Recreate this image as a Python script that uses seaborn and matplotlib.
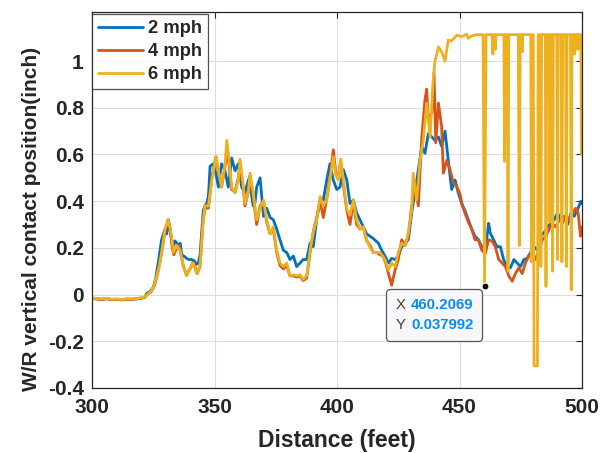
import matplotlib
matplotlib.use("Agg")
import matplotlib.pyplot as plt
import numpy as np
import pandas as pd
import seaborn as sns
from matplotlib.offsetbox import TextArea, HPacker, VPacker, AnnotationBbox
from matplotlib.ticker import FuncFormatter

# ---------------------------------------------------------------- data
speeds = ["2 mph", "4 mph", "6 mph"]
colors = ["#0072BD", "#D95319", "#EDB120"]

flat_x = [300, 302, 304, 306, 308, 310, 312, 314, 316, 318, 320]

dist_2mph = flat_x + [
    321.5, 322.3, 323.5, 325, 326, 327, 328.4, 329.8, 330.5, 331.1, 332.5, 333.2,
    333.9, 335.2, 336.0, 336.6, 337.5, 338.6, 339.5, 340.7, 341.7, 342.7, 343.4,
    344.1, 345.4, 346.1, 346.8, 347.5, 348.2, 349.5, 350.5, 351.6, 352.3, 352.9,
    354.3, 355.6, 356.3, 357, 358.4, 359.7, 361.1, 362.4, 363.8, 364.5, 365.2,
    365.8, 366.5, 367.2, 368.6, 370, 371.3, 372.7, 374, 375.4, 376.7, 378.1,
    379.5, 380.8, 382.2, 383.5, 384.9, 386.2, 387.6, 389, 390.3, 391.7, 393.1,
    394.4, 395.8, 397.1, 398.5, 399.9, 401.2, 402.6, 404, 405.3, 406.7, 408,
    409.4, 410.7, 412.1, 413.5, 414.8, 416.9, 418.2, 419.6, 421, 422.3, 423.7,
    425, 426.4, 427.8, 429.1, 430.5, 431.8, 433.2, 434.6, 435.9, 437.3, 438.7,
    440, 441.4, 442.7, 444.1, 445.4, 446.8, 448.2, 449.5, 450.9, 452.2, 453.6,
    455, 456.3, 457.7, 459.1, 460.5, 461.9, 462.5, 463.9, 465.3, 466.7, 468,
    469.4, 470.8, 472.2, 473.5, 474.9, 476.3, 477.6, 479, 480.4, 481.8, 483.1,
    484.5, 485.9, 487.2, 488.6, 490, 491.3, 492.7, 494.1, 495.5, 496.8, 498.2,
    499.6, 500]
pos_2mph = [-0.015, -0.018, -0.02, -0.017, -0.022, -0.02, -0.022, -0.019, -0.02, -0.018, -0.015] + [
    -0.012, 0.005, 0.012, 0.03, 0.07, 0.135, 0.235, 0.28, 0.26, 0.32, 0.235, 0.21,
    0.23, 0.21, 0.22, 0.17, 0.165, 0.155, 0.15, 0.15, 0.145, 0.13, 0.135,
    0.17, 0.36, 0.38, 0.39, 0.42, 0.55, 0.56, 0.52, 0.46, 0.52, 0.56,
    0.53, 0.46, 0.52, 0.585, 0.53, 0.56, 0.46, 0.435, 0.49, 0.505, 0.42,
    0.38, 0.39, 0.46, 0.50, 0.335, 0.37, 0.33, 0.32, 0.28, 0.235, 0.19,
    0.18, 0.15, 0.165, 0.12, 0.135, 0.15, 0.15, 0.22, 0.205, 0.32, 0.405,
    0.405, 0.49, 0.56, 0.49, 0.45, 0.46, 0.535, 0.49, 0.39, 0.405, 0.35,
    0.32, 0.29, 0.26, 0.25, 0.24, 0.22, 0.19, 0.165, 0.135, 0.155, 0.15,
    0.165, 0.205, 0.22, 0.235, 0.35, 0.435, 0.535, 0.635, 0.605, 0.69, 0.675,
    0.66, 0.675, 0.635, 0.70, 0.575, 0.45, 0.49, 0.435, 0.39, 0.36, 0.32,
    0.28, 0.25, 0.235, 0.205, 0.19, 0.305, 0.265, 0.235, 0.205, 0.205, 0.15,
    0.12, 0.115, 0.15, 0.135, 0.12, 0.15, 0.155, 0.18, 0.205, 0.19, 0.25,
    0.265, 0.29, 0.305, 0.32, 0.35, 0.32, 0.335, 0.30, 0.35, 0.335, 0.365,
    0.40, 0.39]

dist_4mph = flat_x + [
    321.5, 322.5, 324, 325.5, 327, 328.4, 329.8, 331.1, 332, 332.7, 333.4, 334.6,
    335.5, 336.2, 337.3, 338.6, 340, 341.3, 342.2, 342.9, 344.1, 345.2, 346.1,
    347.5, 348.9, 350.6, 351.6, 352.9, 354.3, 355, 355.9, 357, 358.4, 359.7,
    360.4, 361.8, 362.4, 363.8, 364.5, 365.8, 367.2, 368.6, 370, 371.3, 372.7,
    374, 375.4, 376.7, 378.1, 379.5, 380.8, 382.2, 383.5, 384.9, 386.2, 387.6,
    389, 390.3, 391.7, 393.1, 394.4, 395.8, 397.1, 398.5, 399.5, 400.5, 401.5,
    402.6, 404, 405.3, 406.7, 408, 409.4, 410.7, 412.1, 413.5, 414.8, 416.2,
    417.6, 418.9, 420, 421, 422.3, 423.7, 425, 426.4, 427.8, 429.1, 430.5,
    431.8, 433.2, 434.6, 435.9, 436.6, 437.3, 438.7, 439.6, 440.3, 441.4, 442.7,
    443.4, 444.8, 446.1, 447.5, 448.8, 450.2, 451.2, 452.2, 453.6, 455, 456.3,
    457.7, 459.1, 460.5, 461.9, 463.2, 464.6, 466, 467.4, 468.7, 470.1, 471.5,
    472.8, 474.2, 475.6, 476.9, 478.3, 479.7, 481, 482.4, 483.8, 485.2, 486.6,
    487.9, 489.3, 490.7, 492, 493.4, 494.8, 496.1, 497.5, 498.4, 499.4, 500]
pos_4mph = [-0.016, -0.019, -0.021, -0.018, -0.021, -0.02, -0.023, -0.02, -0.021, -0.019, -0.016] + [
    -0.012, 0.0, 0.01, 0.04, 0.1, 0.18, 0.27, 0.32, 0.28, 0.2, 0.17, 0.2,
    0.21, 0.18, 0.12, 0.085, 0.11, 0.14, 0.115, 0.09, 0.12, 0.3, 0.37,
    0.37, 0.5, 0.59, 0.52, 0.46, 0.55, 0.6, 0.56, 0.45, 0.44, 0.5,
    0.56, 0.45, 0.38, 0.44, 0.51, 0.42, 0.30, 0.38, 0.40, 0.31, 0.26,
    0.28, 0.18, 0.125, 0.11, 0.125, 0.08, 0.08, 0.075, 0.08, 0.06, 0.07,
    0.18, 0.27, 0.33, 0.40, 0.33, 0.41, 0.50, 0.62, 0.52, 0.50, 0.57,
    0.47, 0.36, 0.30, 0.40, 0.30, 0.28, 0.29, 0.23, 0.21, 0.18, 0.18,
    0.17, 0.165, 0.13, 0.09, 0.04, 0.105, 0.15, 0.235, 0.21, 0.25, 0.38,
    0.46, 0.38, 0.675, 0.835, 0.88, 0.75, 0.78, 0.95, 0.65, 0.82, 0.72,
    0.52, 0.575, 0.535, 0.48, 0.465, 0.43, 0.38, 0.35, 0.31, 0.28, 0.235,
    0.235, 0.19, 0.175, 0.235, 0.23, 0.205, 0.15, 0.135, 0.12, 0.08, 0.057,
    0.09, 0.115, 0.09, 0.135, 0.165, 0.18, 0.15, 0.19, 0.235, 0.25, 0.28,
    0.305, 0.29, 0.32, 0.305, 0.335, 0.32, 0.35, 0.37, 0.35, 0.25, 0.29]

dist_6mph = flat_x + [
    321.5, 323.7, 325, 326.4, 327.4, 328.4, 329.8, 331.1, 332.5, 333.2, 334.6,
    335.9, 337.3, 338.6, 340, 341.3, 342.7, 344.1, 345.4, 346.1, 347.5, 348.9,
    350.6, 351.6, 352.9, 354.3, 355, 355.9, 357, 358.4, 359.7, 360.4, 361.8,
    362.4, 363.8, 364.5, 365.8, 367.2, 368.6, 370, 371.3, 372.7, 374, 375.4,
    376.7, 378.1, 379.5, 380.8, 382.2, 383.5, 384.9, 386.2, 387.6, 389, 390.3,
    391.7, 393.1, 394.4, 395.8, 397.1, 398.5, 399.5, 400.5, 401.5, 402.6, 404,
    405.3, 406.7, 408, 409.4, 410.7, 412.1, 413.5, 414.8, 416.2, 417.6, 419.6,
    421, 422.3, 423.7, 425, 426.4, 427.8, 429.1, 430.5, 431.1, 432.5, 433.9,
    435.2, 436.6, 438, 439.3,
    440.0, 441.4, 442.7, 444.1, 445.4, 446.5, 447.5, 448.8, 450.9, 452.9, 453.6,
    455.0, 457.0, 459.6, 460.2069, 460.8, 463.3, 463.6, 463.9, 464.3, 464.6,
    464.9, 468.1, 468.4, 468.7, 469.5, 469.8, 470.1, 474.0, 474.4, 474.8,
    475.4, 475.6, 475.8, 479.1, 479.4, 479.8, 480.1, 480.4, 481.8, 482.1,
    483.0, 483.2, 483.5, 485.0, 485.3, 485.6, 486.6, 486.9, 487.2, 487.7,
    488.0, 488.3, 489.7, 490.0, 490.3, 491.5, 491.8, 492.1, 493.3, 493.6,
    493.9, 495.3, 495.6, 495.9, 496.8, 497.0, 497.2, 498.1, 498.3, 498.5,
    499.5, 499.8, 500.0]
pos_6mph = [-0.014, -0.017, -0.019, -0.016, -0.02, -0.019, -0.021, -0.018, -0.019, -0.017, -0.014] + [
    -0.01, 0.01, 0.03, 0.08, 0.12, 0.18, 0.28, 0.32, 0.25, 0.18, 0.21,
    0.19, 0.12, 0.08, 0.11, 0.135, 0.09, 0.12, 0.32, 0.38, 0.38, 0.49,
    0.59, 0.53, 0.46, 0.56, 0.66, 0.58, 0.46, 0.435, 0.49, 0.58, 0.46,
    0.39, 0.435, 0.52, 0.435, 0.32, 0.37, 0.405, 0.32, 0.26, 0.29, 0.19,
    0.135, 0.12, 0.135, 0.08, 0.085, 0.08, 0.085, 0.065, 0.08, 0.19, 0.265,
    0.32, 0.42, 0.38, 0.405, 0.49, 0.59, 0.51, 0.49, 0.58, 0.49, 0.365,
    0.34, 0.405, 0.32, 0.28, 0.29, 0.235, 0.2, 0.18, 0.18, 0.18, 0.15,
    0.105, 0.135, 0.12, 0.18, 0.22, 0.21, 0.265, 0.365, 0.52, 0.405, 0.575,
    0.66, 0.82, 0.675, 0.93,
    1.0, 1.06, 1.04, 1.0, 1.09, 1.085, 1.095, 1.11, 1.105, 1.115, 1.097,
    1.108, 1.113, 1.113, 0.037992, 1.113, 1.113, 1.03, 1.113, 1.113, 1.05,
    1.113, 1.113, 0.57, 1.113, 1.113, 0.10, 1.113, 1.113, 0.21, 1.113,
    1.113, 1.04, 1.113, 1.113, 0.14, 1.113, 1.113, -0.305, -0.305, 1.113,
    1.113, 0.12, 1.113, 1.113, 0.035, 1.113, 1.113, 0.31, 1.113, 1.113,
    0.10, 1.113, 1.113, 0.15, 1.113, 1.113, 0.14, 1.113, 1.113, 0.12,
    1.113, 1.113, 0.02, 1.113, 1.113, 1.03, 1.113, 1.113, 1.05, 1.113,
    1.113, 0.60, 0.60]

tip_x, tip_y = 460.2069, 0.037992

x_ticks = [300, 350, 400, 450, 500]
y_ticks = [-0.4, -0.2, 0, 0.2, 0.4, 0.6, 0.8, 1]

# ---------------------------------------------------------------- table
frames = []
for name, xs, ys in zip(speeds,
                        [dist_2mph, dist_4mph, dist_6mph],
                        [pos_2mph, pos_4mph, pos_6mph]):
    frames.append(pd.DataFrame({"Distance": xs, "Position": ys, "Speed": name}))
df = pd.concat(frames, ignore_index=True)

# ---------------------------------------------------------------- style
sns.set_style("white")
plt.rcParams["font.family"] = ["Liberation Sans", "DejaVu Sans"]
plt.rcParams["font.weight"] = "bold"
ink = "#262626"

fig = plt.figure(figsize=(6.01, 4.53), dpi=100)
ax = fig.add_axes([0.1531, 0.1435, 0.8153, 0.83])

sns.lineplot(data=df, x="Distance", y="Position", hue="Speed",
             hue_order=speeds, palette=colors, estimator=None, sort=False,
             linewidth=2.0, ax=ax, legend=True)

ax.set_xlim(300, 500)
ax.set_ylim(-0.4, 1.21)
ax.set_xticks(x_ticks)
ax.set_yticks(y_ticks)
ax.yaxis.set_major_formatter(FuncFormatter(lambda v, p: f"{v:g}"))

ax.set_axisbelow(True)
ax.grid(True, color="#DEDEDE", linewidth=0.8)
for s in ax.spines.values():
    s.set_visible(True)
    s.set_color(ink)
    s.set_linewidth(0.9)
ax.tick_params(direction="in", length=4, width=0.8, colors=ink,
               top=True, right=True, labelsize=15)
ax.tick_params(axis="x", pad=7)
ax.tick_params(axis="y", pad=6)
for lab in ax.get_xticklabels() + ax.get_yticklabels():
    lab.set_fontweight("bold")

ax.set_xlabel("Distance (feet)", fontsize=16.5, fontweight="bold", color=ink)
ax.set_ylabel("W/R vertical contact position(inch)", fontsize=15, fontweight="bold", color=ink)
ax.xaxis.set_label_coords(0.5, -0.108)
ax.yaxis.set_label_coords(-0.104, 0.45)

handles, labels = ax.get_legend_handles_labels()
leg = ax.legend(handles, labels, loc="upper left", bbox_to_anchor=(0.0, 0.995),
                borderaxespad=0.0, fontsize=13.2, frameon=True, fancybox=False,
                handlelength=2.45, handletextpad=0.25, labelspacing=0.32,
                borderpad=0.35, title=None)
leg.get_frame().set_edgecolor(ink)
leg.get_frame().set_linewidth(0.9)
for t in leg.get_texts():
    t.set_fontweight("bold")
for h in leg.get_lines():
    h.set_linewidth(2.0)

# data tip
ax.plot([tip_x], [tip_y], "o", ms=5, mfc="black", mec="#FFFFD0", mew=0.8, zorder=10)
tp_lab = dict(color="#404040", size=10.8, weight="normal")
tp_val = dict(color="#0A8CF0", size=10.8, weight="bold")
row_x = HPacker(children=[TextArea("X", textprops=tp_lab),
                          TextArea(f"{tip_x:.4f}", textprops=tp_val)], sep=4, align="baseline")
row_y = HPacker(children=[TextArea("Y", textprops=tp_lab),
                          TextArea(f"{tip_y:.6f}", textprops=tp_val)], sep=4, align="baseline")
box = VPacker(children=[row_x, row_y], sep=4, align="left")
ab = AnnotationBbox(box, (tip_x, tip_y), xycoords="data", xybox=(-8, -9),
                    boxcoords="offset points", box_alignment=(1, 1), pad=0.0,
                    frameon=True,
                    bboxprops=dict(boxstyle="round,pad=0.65,rounding_size=0.3",
                                   fc="#F8F8FC", ec="#555555", lw=0.9),
                    zorder=9)
ax.add_artist(ab)

fig.savefig("out.png", dpi=100)
